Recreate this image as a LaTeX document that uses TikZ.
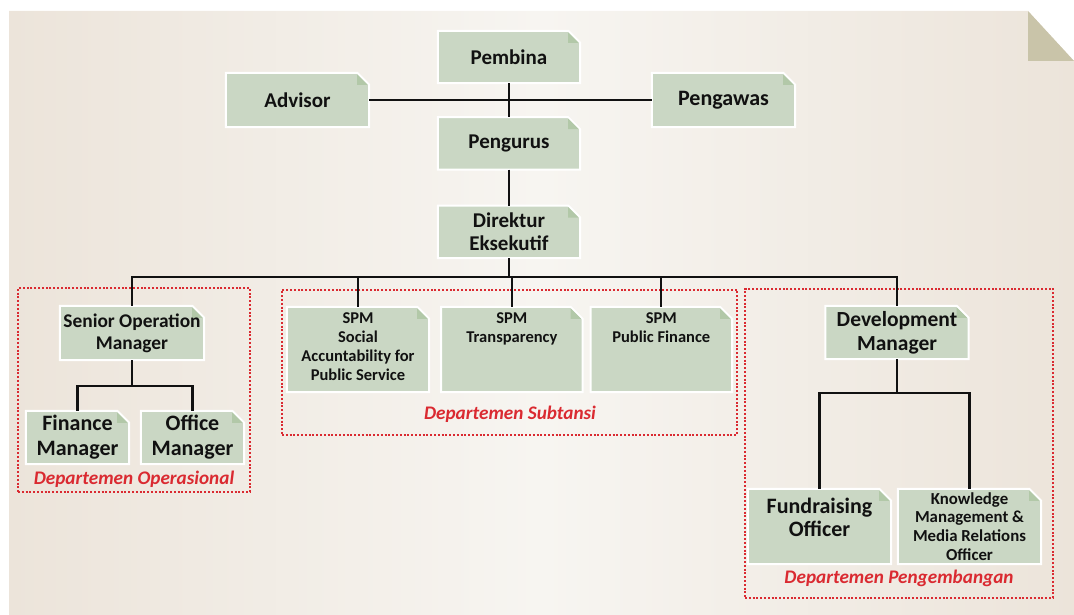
\documentclass[tikz,border=0pt]{standalone}
\usepackage{fontspec}
\setmainfont{Carlito}
\usetikzlibrary{positioning,calc}
\definecolor{Ink}{HTML}{111111}
\definecolor{Card}{HTML}{CAD7C4}
\definecolor{Ear}{HTML}{B2C8A8}
\definecolor{DeptRed}{HTML}{DA2A31}
\definecolor{Paper}{HTML}{ECE4DA}
\definecolor{PaperLight}{HTML}{F7F5F1}
\definecolor{PaperFold}{HTML}{C9C4A9}
\pgfdeclarelayer{bg}
\pgfsetlayers{bg,main}
\tikzset{
  card/.style={inner sep=0pt,align=center,text=Ink,font=\bfseries\fontsize{21}{23.5}\selectfont,minimum width=142pt,minimum height=52pt},
  cardsmall/.style={card,font=\bfseries\fontsize{16.5}{19}\selectfont},
  cardpath/.style={fill=Card,draw=white,line width=2pt},
  link/.style={draw=Ink,line width=2.3pt},
  dept/.style={draw=DeptRed,line width=2pt,dash pattern=on 2pt off 1.8pt,inner sep=0pt},
  deptlabel/.style={text=DeptRed,font=\bfseries\itshape\fontsize{19.2}{21}\selectfont,inner sep=0pt}
}

\begin{document}
\begin{tikzpicture}[x=1pt,y=-1pt,node distance=34pt]
  \useasboundingbox (0,0) rectangle (1074,615);

  % board and management
  \node[card] (pembina) at (509,57) {Pembina};
  \node[card,minimum width=143pt,minimum height=54pt] (advisor) at (297.5,100) {Advisor};
  \node[card,minimum width=143pt,minimum height=54pt,font=\bfseries\fontsize{22}{24}\selectfont] (pengawas) at (723.5,100) {Pengawas};
  \node[card,below=of pembina] (pengurus) {Pengurus};
  \node[card,below=36pt of pengurus] (direktur) {Direktur\\Eksekutif};

  % departemen operasional
  \node[card,minimum width=144pt,minimum height=54pt,font=\bfseries\fontsize{19.4}{22}\selectfont] (som) at (132,333) {Senior Operation\\Manager};
  \node[card,minimum width=103pt,minimum height=53pt,font=\bfseries\fontsize{22}{25}\selectfont] (finance) at (77.5,437.5) {Finance\\Manager};
  \node[card,minimum width=103pt,minimum height=53pt,font=\bfseries\fontsize{22}{25}\selectfont] (office) at (192.5,437.5) {Office\\Manager};

  % departemen subtansi
  \node[cardsmall,minimum height=85pt] (spmsocial) at (358,349.5) {\parbox[c][73pt][t]{138pt}{\centering SPM\\Social\\Accuntability for\\Public Service}};
  \node[cardsmall,minimum width=141pt,minimum height=85pt,right=12pt of spmsocial] (spmtrans) {\parbox[c][73pt][t]{138pt}{\centering SPM\\Transparency}};
  \node[cardsmall,minimum width=141pt,minimum height=85pt,right=8pt of spmtrans] (spmfin) {\parbox[c][73pt][t]{138pt}{\centering SPM\\Public Finance}};

  % departemen pengembangan
  \node[card,minimum width=143pt,minimum height=53pt,font=\bfseries\fontsize{21.5}{24}\selectfont] (devman) at (897,332.5) {Development\\Manager};
  \node[card,minimum width=143pt,minimum height=75pt,font=\bfseries\fontsize{22}{23}\selectfont] (fundraising) at (819.5,526.5) {\parbox[c][57pt][t]{140pt}{\centering Fundraising\\Officer}};
  \node[cardsmall,minimum width=143pt,minimum height=75pt,font=\bfseries\fontsize{16.8}{18.7}\selectfont] (knowledge) at (969.5,526.5) {Knowledge\\Management \&\\Media Relations\\Officer};

  % department frames
  \node[dept,minimum width=232pt,minimum height=204pt] (opsbox) at (134,390) {};
  \node[dept,minimum width=455pt,minimum height=145pt] (subbox) at (509.5,362.5) {};
  \node[dept,minimum width=308pt,minimum height=309pt] (devbox) at (899,443.5) {};
  \node[deptlabel] (opslabel) at (134,479) {Departemen Operasional};
  \node[deptlabel] (sublabel) at (510,414) {Departemen Subtansi};
  \node[deptlabel] (devlabel) at (899,578) {Departemen Pengembangan};

  % connectors
  \coordinate (bus) at (509,277);
  \coordinate (somjoin) at (132,386);
  \coordinate (devjoin) at (897,393);
  \draw[link] (advisor) -- (pengawas);
  \draw[link] (pembina) -- (pengurus);
  \draw[link] (pengurus) -- (direktur);
  \draw[link] (direktur) -- (bus);
  \draw[link] (som.north) |- (bus) -| (devman.north);
  \foreach \n in {spmsocial,spmtrans,spmfin}
    \draw[link] (bus -| \n.north) -- (\n.north);
  \draw[link] (som) -- (somjoin);
  \draw[link] (finance.north) |- (somjoin) -| (office.north);
  \draw[link] (devman) -- (devjoin);
  \draw[link] (fundraising.north) |- (devjoin) -| (knowledge.north);

  \begin{pgfonlayer}{bg}
    \shade[left color=Paper,right color=Paper,middle color=PaperLight] (9,11) -- (1028,11) -- (1074,61) -- (1074,615) -- (9,615) -- cycle;
    \fill[PaperFold] (1028,11) -- (1028,61) -- (1074,61) -- cycle;
    \foreach \n in {pembina,advisor,pengawas,pengurus,direktur,som,finance,office,spmsocial,spmtrans,spmfin,devman,fundraising,knowledge}{
      \path[cardpath] (\n.south west) -- (\n.north west) -- ([xshift=-12pt]\n.north east) -- ([yshift=-12pt]\n.north east) -- (\n.south east) -- cycle;
      \fill[Ear] ([xshift=-12pt,yshift=-1.5pt]\n.north east) -- ([xshift=-12pt,yshift=-12pt]\n.north east) -- ([xshift=-1.5pt,yshift=-12pt]\n.north east) -- cycle;
    }
  \end{pgfonlayer}
\end{tikzpicture}
\end{document}
